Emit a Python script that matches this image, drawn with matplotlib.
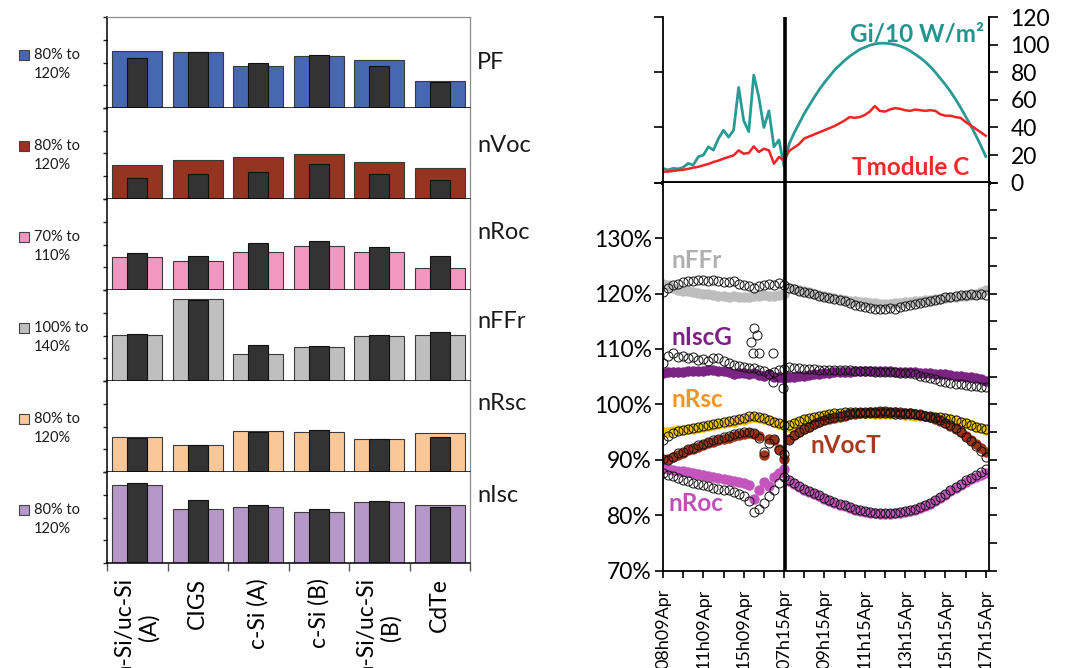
import numpy as np
import matplotlib
matplotlib.use('Agg')
import matplotlib.pyplot as plt
from matplotlib.patches import Rectangle

plt.rcParams['font.family'] = ['Lato', 'DejaVu Sans']
plt.rcParams['text.color'] = '#1a1a1a'

W, H = 1069, 668

# ---------------- bar panels (left) ----------------
modules = ['a-Si/uc-Si\n(A)', 'CIGS', 'c-Si (A)', 'c-Si (B)', 'a-Si/uc-Si\n(B)', 'CdTe']
params = ['PF', 'nVoc', 'nRoc', 'nFFr', 'nRsc', 'nIsc']
ranges = [(80, 120), (80, 120), (70, 110), (100, 140), (80, 120), (80, 120)]
range_top = ['80% to', '80% to', '70% to', '100% to', '80% to', '80% to']
range_bot = ['120%', '120%', '110%', '140%', '120%', '120%']
bar_colors = ['#4767B3', '#943421', '#F197C0', '#BFBFBF', '#FAC898', '#B597C9']
label_ypos = [0.50, 0.59, 0.63, 0.65, 0.75, 0.74]

pf_wide = [105.2, 104.4, 98.4, 102.8, 101.2, 92.0]
pf_narrow = [101.8, 104.4, 99.8, 103.2, 98.3, 91.6]
nvoc_wide = [95.0, 97.3, 98.3, 99.9, 96.3, 93.5]
nvoc_narrow = [89.1, 90.8, 91.9, 95.2, 90.8, 88.2]
nroc_wide = [84.6, 82.6, 86.6, 89.4, 86.6, 79.5]
nroc_narrow = [86.4, 85.0, 90.6, 91.7, 88.8, 84.8]
nffr_wide = [120.1, 136.2, 112.0, 114.8, 119.8, 120.1]
nffr_narrow = [120.8, 135.6, 115.7, 115.4, 120.1, 121.4]
nrsc_wide = [95.2, 92.0, 98.0, 97.6, 94.5, 97.0]
nrsc_narrow = [95.1, 92.0, 97.8, 98.6, 94.4, 95.2]
nisc_wide = [114.2, 103.9, 104.8, 102.4, 106.8, 105.5]
nisc_narrow = [115.3, 107.6, 105.5, 103.6, 107.2, 104.5]

wide_vals = [pf_wide, nvoc_wide, nroc_wide, nffr_wide, nrsc_wide, nisc_wide]
narrow_vals = [pf_narrow, nvoc_narrow, nroc_narrow, nffr_narrow, nrsc_narrow, nisc_narrow]

# ---------------- time series (right) ----------------
time_labels = ['08h09Apr', '11h09Apr', '15h09Apr', '07h15Apr', '09h15Apr',
               '11h15Apr', '13h15Apr', '15h15Apr', '17h15Apr']

gi10 = [10.4, 9.2, 10.4, 10.0, 11.1, 14.0, 12.8, 18.8, 20.0, 26.0, 23.6, 32.0, 38.0,
        33.0, 38.0, 69.0, 45.0, 37.0, 78.0, 62.0, 40.0, 52.0, 26.0, 31.0, 12.0,
        28.0, 36.0, 43.0, 50.0, 56.0, 62.0, 67.5, 72.5, 77.0, 81.5, 85.0, 88.5, 91.5,
        94.0, 96.5, 98.0, 99.5, 100.5, 101.0, 101.0, 100.7, 100.0, 99.0, 97.5, 95.5,
        93.0, 90.5, 87.5, 84.0, 80.0, 75.5, 71.0, 66.0, 60.5, 54.5, 48.0, 41.5, 34.5,
        27.0, 19.0]
tmodule = [8.0, 8.0, 8.5, 9.0, 9.4, 10.0, 10.9, 11.5, 12.6, 13.5, 15.0, 16.0, 17.4,
           18.6, 19.8, 23.4, 21.0, 21.5, 26.3, 22.2, 24.6, 23.4, 13.8, 18.6, 16.2,
           23.0, 25.5, 28.0, 32.0, 33.5, 35.0, 36.5, 38.0, 39.5, 41.0, 43.0, 45.0, 47.5,
           47.0, 47.5, 49.0, 51.5, 55.5, 52.0, 51.5, 53.0, 54.0, 53.5, 52.5, 52.0, 53.0,
           52.5, 52.0, 52.5, 52.0, 49.5, 48.5, 48.5, 47.5, 47.0, 44.0, 41.5, 39.0, 36.5,
           34.0]

nffr_fill = [121.8, 121.5, 121.0, 120.7, 120.5, 120.4, 120.3, 120.1, 120.0, 119.9,
             119.8, 119.6, 119.5, 119.4, 119.5, 119.3, 119.3, 119.4, 119.5, 119.6,
             119.7, 119.6, 119.5, 119.7, 120.0,
             121.0, 120.8, 120.6, 120.4, 120.2, 120.0, 119.8, 119.6, 119.4, 119.2,
             119.0, 118.8, 118.7, 118.6, 118.5, 118.4, 118.3, 118.3, 118.2, 118.2,
             118.2, 118.3, 118.3, 118.4, 118.5, 118.6, 118.7, 118.8, 118.9, 119.0,
             119.1, 119.2, 119.3, 119.4, 119.5, 119.6, 119.8, 120.0, 120.3, 120.6]
nffr_open = [120.2, 121.0, 121.5, 121.8, 122.0, 122.2, 122.3, 122.5, 122.4, 122.3,
             122.4, 122.2, 122.1, 122.0, 122.2, 121.8, 121.6, 121.4, 121.0, 121.3,
             121.5, 121.8, 121.6, 121.9, 121.5,
             121.0, 120.8, 120.5, 120.3, 120.1, 119.9, 119.6, 119.4, 119.2, 119.0,
             118.8, 118.6, 118.3, 118.0, 117.8, 117.6, 117.4, 117.2, 117.3, 117.2,
             117.4, 117.3, 117.5, 117.7, 117.9, 118.1, 118.3, 118.5, 118.7, 118.9,
             119.1, 119.3, 119.4, 119.6, 119.7, 119.8, 119.9, 119.8, 120.0, 119.7]

nisc_fill = [105.7, 105.8, 105.8, 105.9, 105.9, 106.0, 106.0, 106.1, 106.1, 106.2,
             106.2, 106.1, 106.0, 105.8, 105.5, 105.7, 105.6, 105.4, 105.7, 105.3,
             105.2, 105.5, 105.0, 104.9, 104.8,
             104.9, 105.0, 105.1, 105.2, 105.3, 105.4, 105.5, 105.6, 105.7, 105.8,
             105.8, 105.9, 105.9, 106.0, 106.0, 106.0, 106.0, 106.0, 106.0, 106.0,
             106.0, 105.9, 105.9, 105.9, 105.8, 105.8, 105.7, 105.7, 105.6, 105.5,
             105.5, 105.4, 105.3, 105.2, 105.1, 105.0, 104.9, 104.7, 104.5, 104.3]
nisc_open = [107.5, 108.8, 109.2, 108.5, 108.7, 108.3, 108.5, 108.0, 108.2, 107.9,
             108.3, 108.4, 107.8, 107.5, 107.2, 107.0, 106.8, 106.5, 106.6, 106.2,
             106.0, 105.5, 105.8, 106.2, 106.3,
             106.7, 106.6, 106.5, 106.4, 106.3, 106.3, 106.2, 106.2, 106.2, 106.2,
             106.2, 106.2, 106.2, 106.1, 106.1, 106.0, 106.0, 105.9, 105.9, 105.9,
             105.8, 105.8, 105.7, 105.7, 105.6, 105.4, 105.1, 104.9, 104.7, 104.5,
             104.3, 104.1, 103.9, 103.7, 103.6, 103.5, 103.4, 103.3, 103.2, 103.2]
nisc_outlier_t = [4.36, 4.45, 4.51, 4.64, 4.78, 5.44, 5.47, 5.93]
nisc_outlier_v = [111.3, 109.3, 113.7, 112.5, 109.3, 109.3, 104.0, 102.9]

nrsc_fill = [95.0, 95.1, 95.2, 95.3, 95.4, 95.5, 95.6, 95.7, 95.9, 96.1, 96.3, 96.5,
             96.7, 96.8, 96.9, 97.1, 97.2, 97.6, 97.8, 97.6, 97.4, 97.1, 96.8, 96.5,
             96.2,
             96.0, 96.4, 96.8, 97.1, 97.4, 97.6, 97.8, 97.9, 98.1, 98.2, 98.3, 98.4,
             98.4, 98.4, 98.4, 98.4, 98.4, 98.3, 98.3, 98.3, 98.2, 98.2, 98.2, 98.1,
             98.1, 98.0, 98.0, 97.9, 97.8, 97.7, 97.6, 97.5, 97.3, 97.1, 96.8, 96.6,
             96.3, 96.0, 95.7, 95.4]
nrsc_open = [93.6, 94.3, 94.8, 95.2, 95.4, 95.6, 95.8, 95.9, 96.1, 96.3, 96.5, 96.7,
             96.9, 97.0, 97.1, 97.3, 97.5, 97.9, 98.0, 97.7, 97.5, 97.2, 96.9, 96.6,
             96.3,
             96.2, 96.6, 97.0, 97.3, 97.6, 97.8, 98.0, 98.1, 98.3, 98.4, 98.5, 98.6,
             98.6, 98.6, 98.6, 98.5, 98.5, 98.5, 98.4, 98.4, 98.4, 98.3, 98.3, 98.3,
             98.2, 98.2, 98.1, 98.0, 97.9, 97.8, 97.7, 97.6, 97.4, 97.2, 96.9, 96.6,
             96.3, 96.0, 95.7, 95.5]

nvoct_fill = [89.9, 90.2, 90.5, 90.9, 91.3, 91.7, 92.0, 92.4, 92.7, 93.0, 93.3, 93.5,
              93.8, 94.0, 94.3, 94.5, 94.7, 94.8, 94.6, 94.3, 90.8, 93.8, 93.5, 92.0,
              90.2,
              93.8, 94.5, 95.1, 95.6, 96.0, 96.4, 96.8, 97.1, 97.4, 97.6, 97.8, 98.0,
              98.2, 98.3, 98.4, 98.5, 98.6, 98.6, 98.7, 98.7, 98.6, 98.6, 98.5, 98.4,
              98.4, 98.3, 98.1, 97.9, 97.7, 97.4, 97.0, 96.6, 96.1, 95.6, 95.0, 94.3,
              93.6, 92.8, 92.1, 91.5]
nvoct_open = [90.2, 90.0, 90.6, 91.2, 91.5, 92.0, 92.2, 92.6, 92.9, 93.3, 93.5, 93.8,
              94.1, 94.3, 94.6, 94.8, 95.0, 95.1, 94.9, 94.0, 91.5, 93.0, 93.8, 91.8,
              91.0,
              93.6, 94.4, 95.0, 95.5, 96.0, 96.4, 96.8, 97.2, 97.5, 97.7, 97.9, 98.1,
              98.3, 98.4, 98.5, 98.6, 98.7, 98.7, 98.8, 98.8, 98.7, 98.7, 98.6, 98.5,
              98.4, 98.3, 98.2, 98.0, 97.8, 97.5, 97.1, 96.7, 96.2, 95.7, 95.0, 94.2,
              93.4, 92.5, 91.6, 90.6]

nroc_fill = [88.5, 88.3, 88.2, 88.0, 87.9, 87.8, 87.6, 87.5, 87.3, 87.1, 86.9, 86.7,
             86.5, 86.3, 86.2, 86.0, 85.8, 85.5, 83.0, 84.5, 86.0, 85.2, 86.9, 87.6,
             88.4,
             86.1, 85.6, 85.1, 84.6, 84.2, 83.8, 83.4, 83.0, 82.6, 82.2, 81.9, 81.6,
             81.3, 81.0, 80.8, 80.6, 80.5, 80.4, 80.3, 80.3, 80.3, 80.4, 80.5, 80.6,
             80.8, 81.0, 81.3, 81.7, 82.1, 82.6, 83.1, 83.7, 84.3, 84.9, 85.5, 86.0,
             86.5, 86.9, 87.3, 87.7]
nroc_open = [87.6, 87.2, 87.0, 86.7, 86.3, 86.1, 85.9, 85.7, 85.5, 85.2, 85.0, 84.8,
             84.6, 84.5, 84.2, 83.8, 83.4, 82.5, 80.6, 81.2, 82.3, 83.5, 84.5, 85.8,
             86.9,
             86.4, 85.8, 85.3, 84.8, 84.4, 84.0, 83.6, 83.2, 82.8, 82.4, 82.1, 81.8,
             81.5, 81.2, 81.0, 80.8, 80.6, 80.5, 80.4, 80.4, 80.4, 80.5, 80.6, 80.8,
             81.0, 81.2, 81.5, 81.9, 82.3, 82.8, 83.3, 83.9, 84.5, 85.1, 85.7, 86.3,
             86.8, 87.3, 87.8, 88.4]

t = np.arange(len(gi10)) * 0.25   # sample index, 4 samples per tick step
day_split = 6.05

# ---------------- figure ----------------
fig = plt.figure(figsize=(W / 100, H / 100), dpi=100)
fig.patch.set_facecolor('white')


def fx(px):
    return px / W


def fy(py):
    return 1 - py / H


panel_top = 17
panel_h = 91
pos = np.arange(len(modules))
for i in range(6):
    top = panel_top + i * panel_h
    ax = fig.add_axes([fx(107), fy(top + panel_h), fx(470) - fx(107), panel_h / H])
    lo, hi = ranges[i]
    ax.bar(pos, wide_vals[i], width=0.83, color=bar_colors[i], edgecolor='#3a3a3a', lw=0.8)
    ax.bar(pos, narrow_vals[i], width=0.33, color='#333333', edgecolor='#111111', lw=0.8)
    ax.set_ylim(lo, hi)
    ax.set_xlim(-0.5, 5.5)
    ax.set_yticks(np.linspace(lo, hi, 5))
    ax.set_yticklabels([])
    ax.tick_params(axis='y', direction='out', length=3, width=1, color='#222')
    ax.spines['left'].set_linewidth(1.1)
    ax.spines['bottom'].set_linewidth(1.1)
    ax.spines['right'].set_color('#8a8a8a')
    ax.spines['right'].set_linewidth(0.9)
    if i == 0:
        ax.spines['top'].set_color('#8a8a8a')
        ax.spines['top'].set_linewidth(0.9)
    else:
        ax.spines['top'].set_visible(False)
    if i < 5:
        ax.set_xticks([])
    else:
        ax.set_xticks(np.arange(-0.5, 6.0, 1.0))
        ax.set_xticklabels([])
        ax.set_xticks(pos, minor=True)
        ax.set_xticklabels(modules, minor=True, rotation=90, fontsize=16.5,
                           multialignment='center', linespacing=1.15)
        ax.tick_params(axis='x', which='major', direction='out', length=6, width=1,
                       color='#555')
        ax.tick_params(axis='x', which='minor', length=0, pad=11)
    ax.text(1.02, label_ypos[i], params[i], transform=ax.transAxes, fontsize=17,
            va='center', ha='left')
    # small legend swatch with the range
    fig.add_artist(Rectangle((fx(19), fy(top + 43)), 10 / W, 10 / H,
                             transform=fig.transFigure, facecolor=bar_colors[i],
                             edgecolor='#444', lw=0.8))
    fig.text(fx(34), fy(top + 38), range_top[i], fontsize=10.5, va='center', ha='left')
    fig.text(fx(34), fy(top + 57), range_bot[i], fontsize=10.5, va='center', ha='left')

# ---------------- right: top (irradiance / temperature) ----------------
x0, x1 = 663, 989
ax_t = fig.add_axes([fx(x0), fy(182.7), fx(x1) - fx(x0), (182.7 - 17) / H])
ax_t.plot(t, gi10, color='#2A9A94', lw=2.0)
ax_t.plot(t, tmodule, color='#F02424', lw=1.8)
ax_t.axvline(day_split, color='black', lw=2.6)
ax_t.set_xlim(0, 16.16)
ax_t.set_ylim(0, 120)
ax_t.set_xticks([])
ax_t.set_yticks([0, 40, 80, 120])
ax_t.set_yticklabels([])
ax_t.tick_params(axis='y', direction='out', length=6.5, width=1.2)
for s in ['left', 'right', 'top']:
    ax_t.spines[s].set_linewidth(1.3)
ax_t.spines['top'].set_visible(False)
ax_t.spines['bottom'].set_linewidth(2.8)
ax_tr = ax_t.twinx()
ax_tr.set_ylim(0, 120)
ax_tr.set_yticks(range(0, 121, 20))
ax_tr.tick_params(axis='y', direction='out', length=6.5, width=1.2, labelsize=16.5, pad=9)
ax_tr.spines['right'].set_linewidth(1.3)
ax_tr.spines['top'].set_visible(False)
ax_tr.spines['bottom'].set_visible(False)
ax_tr.spines['left'].set_visible(False)
ax_t.text(15.9, 108, 'Gi/10 W/m²', color='#23948E', fontsize=17.5, fontweight='bold',
          ha='right', va='center')
ax_t.text(15.2, 11, 'Tmodule C', color='#EE2A2A', fontsize=17.5, fontweight='bold',
          ha='right', va='center')

# ---------------- right: bottom (normalised parameters) ----------------
ax_b = fig.add_axes([fx(x0), fy(570.7), fx(x1) - fx(x0), (570.7 - 182.7) / H])
ms_f, ms_o = 6.5, 6.5
ax_b.plot(t, nffr_fill, 'o', ms=ms_f, color='#BDBDBD', mec='#BDBDBD')
ax_b.plot(t, nisc_fill, 'o', ms=ms_f, color='#7B2382', mec='#7B2382')
ax_b.plot(t, nrsc_fill, 'o', ms=ms_f, color='#F2C200', mec='#F2C200')
ax_b.plot(t, nvoct_fill, 'o', ms=ms_f, color='#9C3418', mec='#9C3418')
ax_b.plot(t, nroc_fill, 'o', ms=ms_f, color='#C355BD', mec='#C355BD')
for series in [nffr_open, nisc_open, nrsc_open, nvoct_open, nroc_open]:
    ax_b.plot(t, series, 'o', ms=ms_o, mfc='none', mec='#111111', mew=0.7)
ax_b.plot(nisc_outlier_t, nisc_outlier_v, 'o', ms=ms_o, mfc='none', mec='#111111', mew=0.7)
ax_b.axvline(day_split, color='black', lw=2.6)
ax_b.set_xlim(0, 16.16)
ax_b.set_ylim(70, 140)
ax_b.set_yticks(range(70, 141, 10))
ax_b.set_yticklabels([f'{v}%' for v in range(70, 131, 10)] + [''])
ax_b.set_yticks(range(75, 140, 10), minor=True)
ax_b.tick_params(axis='y', which='major', direction='out', length=6, width=1.2,
                 left=True, right=True, labelsize=16.5, pad=2)
ax_b.tick_params(axis='y', which='minor', direction='out', length=6, width=1.2,
                 left=False, right=True)
ax_b.set_xticks(np.arange(0, 17, 2))
ax_b.set_xticklabels(time_labels, rotation=90, fontsize=13)
ax_b.set_xticks(np.arange(1, 16, 2), minor=True)
ax_b.tick_params(axis='x', which='both', direction='out', length=5, width=1.2, pad=8)
for s in ['left', 'right', 'bottom']:
    ax_b.spines[s].set_linewidth(1.3)
ax_b.spines['top'].set_visible(False)

lab_kw = dict(fontsize=17.5, fontweight='bold', ha='left', va='center')
ax_b.text(0.4, 126.0, 'nFFr', color='#AFAFAF', **lab_kw)
ax_b.text(0.4, 112.1, 'nIscG', color='#7B2382', **lab_kw)
ax_b.text(0.4, 100.8, 'nRsc', color='#F7941D', **lab_kw)
ax_b.text(7.3, 92.6, 'nVocT', color='#A63A1E', **lab_kw)
ax_b.text(0.25, 82.2, 'nRoc', color='#C050B8', **lab_kw)

fig.savefig('out.png', dpi=100)
